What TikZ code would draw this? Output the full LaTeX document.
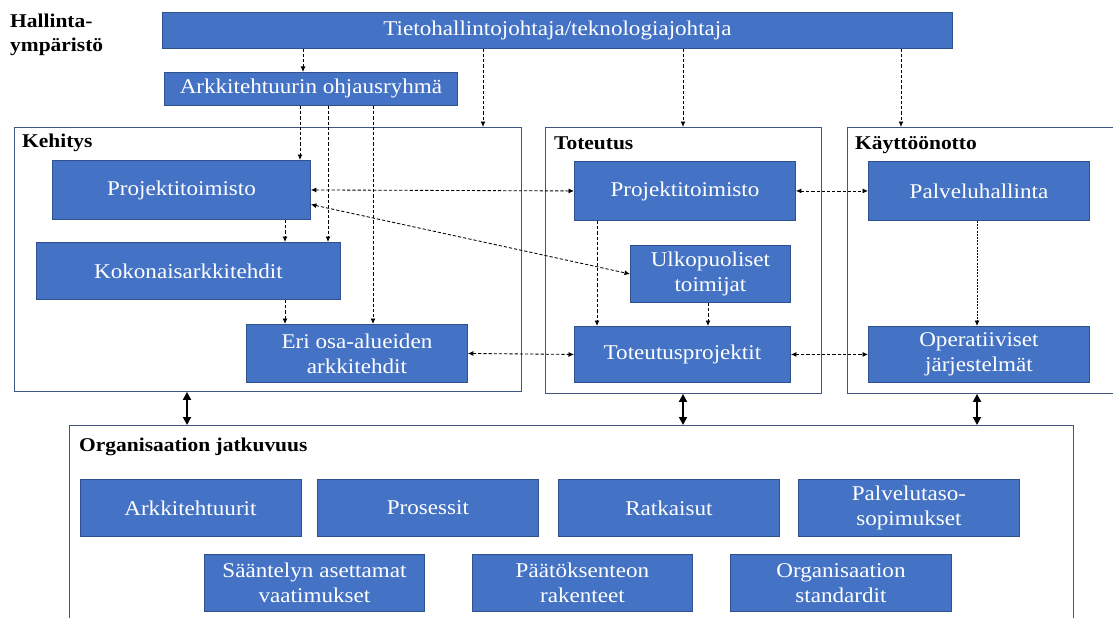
\documentclass[tikz,border=0pt]{standalone}
\usepackage{fontspec}
\setmainfont[FakeStretch=1.1]{Liberation Serif}
\usetikzlibrary{arrows.meta}
\definecolor{boxblue}{HTML}{4472C4}
\definecolor{boxedge}{HTML}{2F528F}
\definecolor{frameedge}{HTML}{3F5683}

\begin{document}
\begin{tikzpicture}[x=1pt,y=-1pt,
  bx/.style={draw=boxedge, line width=0.9pt, fill=boxblue, text=white,
    inner sep=0pt, align=center, anchor=north west,
    font=\fontsize{21}{25}\selectfont},
  frm/.style={draw=frameedge, line width=0.9pt, inner sep=0pt, anchor=north west},
  lbl/.style={font=\fontsize{19.5}{24}\selectfont\bfseries, inner sep=0pt},
  dar/.style={line width=0.85pt, dash pattern=on 3.2pt off 2pt,
    -{Latex[length=5.5pt,width=5pt]}},
  ddar/.style={dar, {Latex[length=5.5pt,width=5pt]}-{Latex[length=5.5pt,width=5pt]}},
  dotar/.style={dar, dash pattern=on 2pt off 1.2pt},
  bigar/.style={line width=1.8pt,
    {Triangle[length=8pt,width=8pt]}-{Triangle[length=8pt,width=8pt]}}]

\useasboundingbox (0,0) rectangle (1113,618);
\clip (0,0) rectangle (1113,618);

% column positions of the vertical connectors
\coordinate (xa) at (303,0);
\coordinate (xb) at (483,0);
\coordinate (xc) at (683,0);
\coordinate (xd) at (901,0);
\coordinate (xe) at (300,0);
\coordinate (xf) at (328,0);
\coordinate (xg) at (373,0);
\coordinate (xh) at (285,0);
\coordinate (xi) at (597,0);
\coordinate (xj) at (708,0);
\coordinate (xk) at (187,0);
\coordinate (xl) at (977,0);

% phase frames
\node[frm, minimum width=507pt, minimum height=264pt] (keh) at (14,127) {};
\node[frm, minimum width=276pt, minimum height=266pt] (tote) at (545,127) {};
\node[frm, minimum width=268pt, minimum height=266pt] (kayt) at (847,127) {};
\node[frm, minimum width=1004pt, minimum height=220pt] (org) at (69,425) {};

% frame titles
\node[lbl, anchor=north west, align=left] (hall) at (10,14) {Hallinta-\\ympäristö};
\node[lbl, anchor=base west] (kehl) at (22,147) {Kehitys};
\node[lbl, anchor=base west] (totel) at (554,149) {Toteutus};
\node[lbl, anchor=base west] (kaytl) at (855,149) {Käyttöönotto};
\node[lbl, anchor=base west] (orgl) at (79,451) {Organisaation jatkuvuus};

% governance
\node[bx, minimum width=790pt, minimum height=36pt] (tieto) at (162,12) {Tietohallintojohtaja/teknologiajohtaja};
\node[bx, minimum width=293pt, minimum height=33pt] (arkk) at (164,72) {Arkkitehtuurin ohjausryhmä};

% development
\node[bx, minimum width=258pt, minimum height=59pt] (kproj) at (52,160) {Projektitoimisto};
\node[bx, minimum width=304pt, minimum height=57pt] (koko) at (36,242) {Kokonaisarkkitehdit};
\node[bx, minimum width=221pt, minimum height=58pt] (eri) at (246,324) {Eri osa-alueiden\\arkkitehdit};

% implementation
\node[bx, minimum width=221pt, minimum height=59pt] (tproj) at (574,161) {Projektitoimisto};
\node[bx, minimum width=160pt, minimum height=57pt] (ulko) at (630,245) {Ulkopuoliset\\toimijat};
\node[bx, minimum width=216pt, minimum height=56pt] (tot) at (574,326) {Toteutusprojektit};

% deployment
\node[bx, minimum width=221pt, minimum height=59pt] (palv) at (868,161) {Palveluhallinta};
\node[bx, minimum width=221pt, minimum height=56pt] (oper) at (868,326) {Operatiiviset\\järjestelmät};

% organisational continuity
\node[bx, minimum width=221pt, minimum height=57pt] (arkt) at (79.5,479) {Arkkitehtuurit};
\node[bx, minimum width=221pt, minimum height=57pt] (pros) at (317,479) {Prosessit};
\node[bx, minimum width=221pt, minimum height=57pt] (ratk) at (558,479) {Ratkaisut};
\node[bx, minimum width=221pt, minimum height=57pt] (palvs) at (798,479) {Palvelutaso-\\sopimukset};
\node[bx, minimum width=220pt, minimum height=57pt] (saant) at (204,554) {Sääntelyn asettamat\\vaatimukset};
\node[bx, minimum width=220pt, minimum height=57pt] (paat) at (472,554) {Päätöksenteon\\rakenteet};
\node[bx, minimum width=221pt, minimum height=57pt] (orgst) at (730,554) {Organisaation\\standardit};

% governance connectors
\draw[dar] (tieto.south -| xa) -- (arkk.north -| xa);
\draw[dar] (tieto.south -| xb) -- (keh.north -| xb);
\draw[dar] (tieto.south -| xc) -- (tote.north -| xc);
\draw[dar] (tieto.south -| xd) -- (kayt.north -| xd);
\draw[dar] (arkk.south -| xe) -- (kproj.north -| xe);
\draw[dar] (arkk.south -| xf) -- (koko.north -| xf);
\draw[dar] (arkk.south -| xg) -- (eri.north -| xg);

% within phases
\draw[dar] (kproj.south -| xh) -- (koko.north -| xh);
\draw[dar] (koko.south -| xh) -- (eri.north -| xh);
\draw[dar] (tproj.south -| xi) -- (tot.north -| xi);
\draw[dar] (ulko.south -| xj) -- (tot.north -| xj);
\draw[dotar] (palv.south -| xl) -- (oper.north -| xl);

% between phases
\draw[ddar] (kproj.east) -- (tproj.west);
\draw[ddar] ([yshift=-14.5pt]kproj.east) -- (ulko.west);
\draw[ddar] (tproj.east) -- (palv.west);
\draw[ddar] (eri.east) -- (tot.west);
\draw[ddar] (tot.east) -- (oper.west);

% links to organisational continuity
\draw[bigar] (keh.south -| xk) -- (org.north -| xk);
\draw[bigar] (tote.south -| xc) -- (org.north -| xc);
\draw[bigar] (kayt.south -| xl) -- (org.north -| xl);
\end{tikzpicture}
\end{document}
